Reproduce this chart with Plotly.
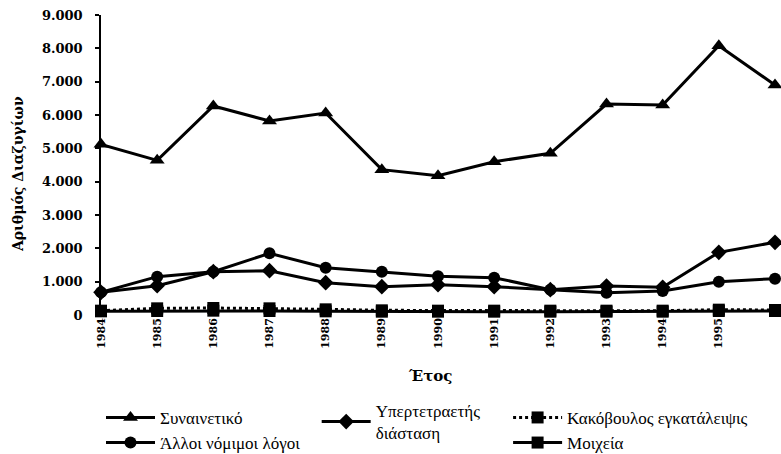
import plotly.graph_objects as go

years = list(range(1984, 1997))
synainetiko = [5120, 4640, 6270, 5820, 6060, 4360, 4180, 4600, 4850, 6330, 6300, 8080, 6900]
alloi = [680, 1150, 1300, 1850, 1420, 1300, 1160, 1120, 760, 670, 720, 1000, 1090]
yper = [680, 880, 1300, 1330, 970, 850, 910, 850, 760, 870, 830, 1880, 2180]
kakovoulos = [130, 200, 210, 200, 170, 140, 130, 130, 130, 130, 130, 160, 150]
moixeia = [110, 120, 130, 120, 110, 100, 100, 100, 100, 100, 100, 120, 120]

SERIF = "Liberation Serif"
WIDE = "DejaVu Serif"
fig = go.Figure()

def add(name, y, symbol, size, legend, dash="solid"):
    fig.add_trace(go.Scatter(
        x=years, y=y, name=name, mode="lines+markers",
        line=dict(color="black", width=3, dash=dash),
        marker=dict(symbol=symbol, size=size, color="black"),
        cliponaxis=False, legend=legend))

add("Συναινετικό", synainetiko, "triangle-up", 13, "legend")
add("Άλλοι νόμιμοι λόγοι", alloi, "circle", 12, "legend")
add("Υπερτετραετής<br>διάσταση", yper, "diamond", 12, "legend2")
add("Κακόβουλος εγκατάλειψις", kakovoulos, "square", 12, "legend3", dash="dot")
add("Μοιχεία", moixeia, "square", 12, "legend3")

legfont = dict(family=SERIF, size=17, color="black")
common = dict(orientation="v", yanchor="top", xanchor="left", font=legfont,
              itemwidth=49, bgcolor="rgba(0,0,0,0)", tracegroupgap=0, traceorder="normal")

fig.update_layout(
    width=781, height=454,
    margin=dict(l=101, r=6, t=15, b=139, autoexpand=False),
    paper_bgcolor="white", plot_bgcolor="white",
    separators=",.",
    font=dict(family=SERIF, color="black"),
    legend=dict(x=0.0, y=-0.283, **common),
    legend2=dict(x=0.32, y=-0.26, **common),
    legend3=dict(x=0.604, y=-0.283, **common),
    xaxis=dict(
        range=[1984, 1996], tickmode="array", tickvals=years,
        ticktext=[str(v) for v in years], tickangle=-90,
        tickfont=dict(family=WIDE, size=11, color="black", weight="bold"),
        showgrid=False, zeroline=False, showline=False, ticks="",
        automargin=False,
    ),
    yaxis=dict(
        range=[0, 9000], tickmode="array", tickvals=list(range(0, 9001, 1000)),
        tickformat=",d",
        tickfont=dict(family=WIDE, size=13, color="black", weight="bold"),
        showgrid=False, zeroline=False, showline=True, linecolor="black", linewidth=1.5,
        ticks="outside", ticklen=4, tickcolor="black", tickwidth=1.5,
        ticklabelstandoff=10,
        automargin=False,
    ),
    yaxis2=dict(
        range=[0, 9000], overlaying="y", side="left", anchor="x",
        tickmode="array", tickvals=list(range(0, 9001, 1000)), showticklabels=False,
        showgrid=False, zeroline=False, showline=False,
        ticks="inside", ticklen=4, tickcolor="black", tickwidth=1.5,
        automargin=False,
    ),
    annotations=[
        dict(text="Αριθμός Διαζυγίων", textangle=-90, xref="paper", yref="paper",
             x=-0.123, y=0.47, xanchor="center", yanchor="middle", showarrow=False,
             font=dict(family=WIDE, size=14, color="black", weight="bold")),
        dict(text="Έτος", xref="paper", yref="paper",
             x=0.488, y=-0.203, xanchor="center", yanchor="middle", showarrow=False,
             font=dict(family=WIDE, size=15, color="black", weight="bold")),
    ],
    showlegend=True,
)

fig.write_html("out.html", config={"displayModeBar": False},
               post_script="document.body.style.margin='0px';")
